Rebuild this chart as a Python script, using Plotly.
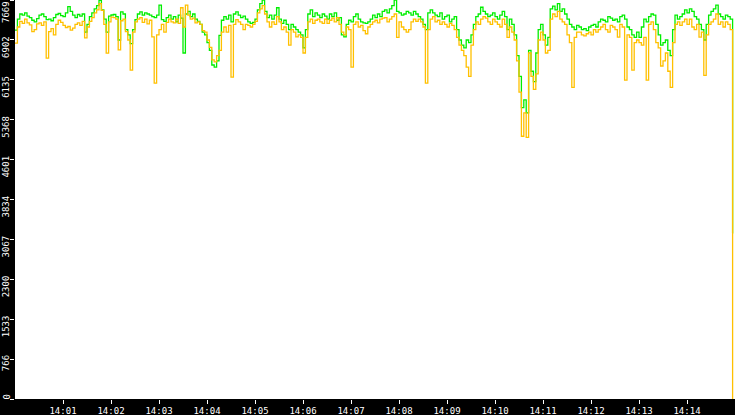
import pandas as pd
import plotly.graph_objects as go

start_time = "2024-01-01 14:00:00"
step_seconds = 3

series_green = [
    7090, 7300, 7400, 7380, 7420, 7360, 7330, 7280, 7250, 7310,
    7380, 7400, 7350, 7290, 7300, 7270, 7330, 7390, 7410, 7370,
    7350, 7420, 7540, 7450, 7380, 7330, 7390, 7360, 7400, 7050,
    7200, 7350, 7420, 7500, 7560, 7660, 7477, 7300, 7050, 7360,
    7381, 7390, 7350, 6900, 7440, 7400, 7100, 7000, 6830, 7100,
    7290, 7400, 7440, 7380, 7420, 7400, 7380, 7350, 7330, 7380,
    7570, 7290, 7260, 7330, 7380, 7300, 7350, 7250, 7380, 7320,
    6650, 7400, 7450, 7350, 7400, 7300, 7260, 7200, 7050, 7000,
    6850, 6700, 6420, 6380, 6500, 6990, 7280, 7350, 7300, 7380,
    7250, 7400, 7440, 7380, 7330, 7360, 7300, 7250, 7220, 7240,
    7300, 7480, 7600, 7669, 7450, 7330, 7380, 7300, 7380, 7520,
    7300, 7220, 7280, 7200, 7100, 7200, 7150, 7100, 7050, 7000,
    6750, 7100, 7400, 7480, 7350, 7420, 7380, 7330, 7400, 7360,
    7300, 7400, 7350, 7420, 7280, 7330, 7000, 6960, 7200, 7280,
    7250, 7350, 7400, 7300, 7250, 7230, 7220, 7250, 7300, 7380,
    7330, 7400, 7350, 7450, 7480, 7420, 7500, 7560, 7669, 7450,
    7420, 7380, 7400, 7450, 7420, 7380, 7450, 7400, 7350, 7300,
    7200, 7100, 7420, 7480, 7420, 7380, 7350, 7420, 7300, 7350,
    7380, 7250, 7300, 7350, 7100, 6900, 6800, 6750, 6900, 6850,
    7000, 7200, 7350, 7400, 7530, 7450, 7400, 7350, 7380, 7420,
    7350, 7300, 7380, 7450, 7350, 7100, 7300, 7200, 7000, 6600,
    6200, 5600, 5750, 5500, 6700, 6300, 6100, 6650, 7100, 7200,
    7000, 6800, 6950, 7500, 7550, 7480, 7600, 7450, 7500, 7400,
    7300, 7200, 7150, 7100, 7180, 7150, 7100, 7120, 7080, 7150,
    7180, 7200, 7150, 7250, 7300, 7280, 7250, 7350, 7320, 7280,
    7300, 7250, 7350, 7380, 7300, 7150, 7100, 7000, 6950, 7050,
    6950, 7150, 7300, 7250, 7350, 7400, 7380, 7200, 7000, 6800,
    6850, 6900, 6700, 6600, 7100, 7380, 7300, 7350, 7400, 7480,
    7420, 7500, 7450, 7350, 7300, 7200, 7100, 6900, 7200, 7380,
    7450, 7500, 7570, 7400, 7350, 7300, 7380, 7350, 7300, 3180,
]

series_orange = [
    6840, 7150, 7260, 7220, 7300, 7230, 7190, 7060, 7100, 7210,
    7230, 7180, 7250, 6550, 7060, 7120, 7000, 7200, 7280, 7240,
    7180, 7140, 7160, 7090, 7130, 7200, 7230, 7180, 7260, 6940,
    7150, 7260, 7330, 7420, 7480, 7600, 7470, 7200, 6648, 7250,
    7340, 7330, 7300, 6710, 7270, 7300, 7060, 6900, 6320, 7050,
    7250, 7300, 7330, 7240, 7300, 7210, 7280, 6960, 6070, 7000,
    7100, 7200, 7050, 7240, 7300, 7250, 7230, 7300, 7220, 7520,
    7150, 7570, 7380, 7300, 7320, 7230, 7250, 7200, 7080, 7050,
    6900, 6760, 6520, 6480, 6600, 6700, 7050, 7150, 7050, 7180,
    6185, 7200, 7290, 7250, 7200, 7100, 7200, 7180, 7150, 7200,
    7260, 7420, 7500, 7560, 7400, 7250, 7150, 7250, 7200, 7350,
    7250, 7100, 7150, 7050, 6800, 7100, 7050, 6960, 7000, 6950,
    6650, 6950, 7250, 7300, 7220, 7280, 7300, 7250, 7220, 7300,
    7220, 7280, 7320, 7250, 7330, 7200, 7050, 7000, 7150, 7100,
    6380, 7200, 7250, 7150, 7180, 7080, 7020, 7150, 7200, 7250,
    7280, 7230, 7300, 7320, 7330, 7250, 7300, 7350, 7400, 6950,
    7250, 7150, 7100, 7050, 7100, 7250, 7300, 7260, 7300, 7250,
    7150, 6070, 7100, 7300, 7350, 7250, 7280, 7200, 7250, 7200,
    7150, 7220, 7180, 7100, 6950, 6800, 6700, 6600, 6378, 6200,
    6800, 7100, 7250, 7200, 7300, 7350, 7320, 7250, 7200, 7300,
    7250, 7200, 7150, 7300, 7200, 6950, 7150, 7050, 6900, 6500,
    5900, 5050, 5500, 5030, 6650, 6200, 5950, 6250, 6900, 7050,
    6900, 6650, 6700, 7300, 7400, 7350, 7450, 7300, 7250, 7200,
    7000, 6850, 5990, 6950, 7050, 7050, 7000, 6980, 7020, 7050,
    7000, 7100, 7050, 7100, 7150, 7200, 7100, 7050, 7180, 7150,
    7100, 6957, 7200, 7150, 6128, 7000, 6950, 6320, 6850, 6900,
    6850, 6800, 6950, 6128, 7200, 7250, 7100, 6850, 6750, 6400,
    6500, 6650, 6300, 5990, 6850, 7200, 7250, 7180, 7250, 7300,
    7200, 7300, 7150, 7100, 7200, 6957, 7050, 6220, 7000, 7200,
    7250, 7300, 7400, 7200, 7250, 7150, 7250, 7200, 7100, 0,
]

y_tick_values = [0, 766, 1533, 2300, 3067, 3834, 4601, 5368, 6135, 6902, 7669]
x_tick_labels = ["14:01", "14:02", "14:03", "14:04", "14:05", "14:06", "14:07",
                 "14:08", "14:09", "14:10", "14:11", "14:12", "14:13", "14:14"]
x_range = ["2024-01-01 14:00:00", "2024-01-01 14:15:00"]
y_max = max(y_tick_values)

times = pd.date_range(start_time, periods=len(series_green), freq=f"{step_seconds}s")
x_tick_values = [pd.Timestamp("2024-01-01 " + lbl) for lbl in x_tick_labels]

fig = go.Figure()
fig.add_trace(go.Scatter(x=times, y=series_green, mode="lines",
                         line=dict(color="#00ee00", width=1.3, shape="hv"),
                         showlegend=False, hoverinfo="skip"))
fig.add_trace(go.Scatter(x=times, y=series_orange, mode="lines",
                         line=dict(color="#ffc000", width=1.3, shape="hv"),
                         showlegend=False, hoverinfo="skip"))

font = dict(family="DejaVu Sans Mono", size=9, color="white")

# y tick labels, rotated, placed just left of the ticks (top label kept inside)
for v in y_tick_values:
    fig.add_annotation(
        text=str(v), xref="paper", x=0, yref="y", y=v,
        xanchor="right", yanchor="top",
        xshift=-3, yshift=(0 if v == y_max else 5),
        textangle=-90, showarrow=False, font=font, borderpad=0,
    )

fig.update_layout(
    width=735, height=415,
    margin=dict(l=15, r=0, t=0, b=16, pad=0),
    paper_bgcolor="black", plot_bgcolor="white",
    font=font,
    xaxis=dict(range=x_range, tickvals=x_tick_values, ticktext=x_tick_labels,
               showgrid=False, zeroline=False, showline=False,
               ticks="outside", ticklen=4, tickcolor="white", tickwidth=1,
               tickfont=font, automargin=False, fixedrange=True,
               ticklabelstandoff=-1),
    yaxis=dict(range=[0, y_max], tickvals=y_tick_values,
               showticklabels=False,
               showgrid=False, zeroline=False, showline=False,
               ticks="outside", ticklen=4, tickcolor="white", tickwidth=1,
               automargin=False, fixedrange=True),
)

fig.write_html("out.html", config={"displayModeBar": False},
               post_script="document.body.style.margin='0';document.body.style.background='black';")
